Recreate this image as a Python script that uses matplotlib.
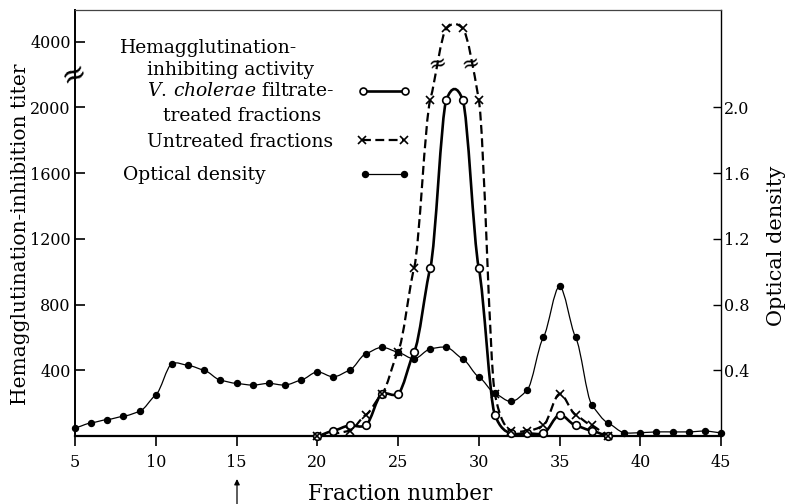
import matplotlib

matplotlib.use("Agg")
import matplotlib.pyplot as plt
import matplotlib.transforms as mtransforms
import numpy as np
from matplotlib.lines import Line2D
from matplotlib.patches import FancyArrowPatch, PathPatch
from matplotlib.path import Path

plt.rcParams["font.family"] = ["DejaVu Serif"]
plt.rcParams["mathtext.fontset"] = "dejavuserif"

# optical density, fractions 5..45
od_frac = list(range(5, 46))
od_vals = [0.05, 0.08, 0.10, 0.12, 0.15, 0.25, 0.44, 0.43, 0.40, 0.34,
           0.32, 0.31, 0.32, 0.31, 0.34, 0.39, 0.36, 0.40, 0.50, 0.54,
           0.51, 0.47, 0.53, 0.54, 0.47, 0.36, 0.26, 0.21, 0.28, 0.60,
           0.91, 0.60, 0.19, 0.08, 0.02, 0.02, 0.025, 0.025, 0.025, 0.03, 0.02]

# V. cholerae filtrate-treated fractions (HI titer)
treated_frac = list(range(20, 39))
treated_titer = [0, 32, 64, 64, 256, 256, 512, 1024, 2048, 2048,
                 1024, 128, 16, 16, 16, 128, 64, 32, 0]

# untreated fractions (HI titer)
untreated_frac = [20, 22, 23, 24, 25, 26, 27, 28, 29, 30,
                  31, 32, 33, 34, 35, 36, 37, 38]
untreated_titer = [0, 32, 128, 256, 512, 1024, 2048, 4450, 4450, 2048,
                   256, 32, 32, 64, 256, 128, 64, 0]

left_ticks = [400, 800, 1200, 1600, 2000, 4000]
right_ticks = [0.4, 0.8, 1.2, 1.6, 2.0]
x_ticks = [5, 10, 15, 20, 25, 30, 35, 40, 45]

BREAK_AT = 2048
BREAK_K = (2400 - BREAK_AT) / (4000 - BREAK_AT)
YTOP = 2593
W, H = 786, 504


def broken(v):
    v = np.asarray(v, dtype=float)
    return np.where(v <= BREAK_AT, v, BREAK_AT + (v - BREAK_AT) * BREAK_K)


def smooth_path(x, y, c=0.5):
    x = np.asarray(x, float)
    y = np.asarray(y, float)
    n = len(x)
    m = np.zeros(n)
    for i in range(n):
        a, b = max(i - 1, 0), min(i + 1, n - 1)
        m[i] = c * (y[b] - y[a]) / (x[b] - x[a])
    verts = [(x[0], y[0])]
    codes = [Path.MOVETO]
    for i in range(n - 1):
        h = x[i + 1] - x[i]
        verts += [(x[i] + h / 3, y[i] + m[i] * h / 3),
                  (x[i + 1] - h / 3, y[i + 1] - m[i + 1] * h / 3),
                  (x[i + 1], y[i + 1])]
        codes += [Path.CURVE4] * 3
    return Path(verts, codes)


def px(xp, yp):
    return xp / W, 1 - yp / H


fig = plt.figure(figsize=(7.86, 5.04), dpi=100)
ax = fig.add_axes([75 / W, 1 - 436 / H, (721 - 75) / W, (436 - 10) / H])
ax.set_xlim(5, 45)
ax.set_ylim(0, YTOP)

# treated: thick solid, open circles
ty = broken(treated_titer)
ax.add_patch(PathPatch(smooth_path(treated_frac, ty), fill=False, lw=1.9,
                       edgecolor="black", clip_on=False, zorder=3))
ax.plot(treated_frac, ty, ls="none", marker="o", ms=5.5, mfc="white",
        mec="black", mew=1.2, clip_on=False, zorder=4)

# untreated: dashed, crosses
uy = broken(untreated_titer)
ax.add_patch(PathPatch(smooth_path(untreated_frac, uy), fill=False, lw=1.6,
                       ls=(0, (4, 2)), edgecolor="black", clip_on=False, zorder=3))
ax.plot(untreated_frac, uy, ls="none", marker="x", ms=6, mec="black",
        mew=1.2, clip_on=False, zorder=4)

# break marks on the untreated peak
for i in (6, 8):
    bx = (untreated_frac[i] + untreated_frac[i + 1]) / 2
    by = (uy[i] + uy[i + 1]) / 2
    ax.text(bx, by, "\u2248", fontsize=16, rotation=15, ha="center",
            va="center", zorder=5)

ax.set_xticks(x_ticks)
ax.set_xticklabels([str(t) for t in x_ticks])
ax.set_yticks(broken(left_ticks))
ax.set_yticklabels([str(t) for t in left_ticks])
ax.tick_params(axis="x", direction="out", length=7, width=1.2, labelsize=11.5, pad=6)
ax.tick_params(axis="y", direction="in", length=7, width=1.2, labelsize=11.5, pad=3)
ax.spines["bottom"].set_linewidth(1.6)
ax.spines["left"].set_linewidth(1.4)
ax.spines["top"].set_linewidth(0.9)
ax.spines["top"].set_color("#444444")
ax.spines["right"].set_linewidth(1.0)

# axis break on left spine
trans = mtransforms.blended_transform_factory(ax.transAxes, ax.transData)
ax.text(0, broken(2900), "\u2248", transform=trans, fontsize=22, rotation=25,
        ha="center", va="center", clip_on=False)

# optical density on right axis
ax2 = ax.twinx()
ax2.set_ylim(0, YTOP / 1000)
ax2.add_patch(PathPatch(smooth_path(od_frac, od_vals), fill=False, lw=0.9,
                        edgecolor="black", clip_on=False, zorder=2))
ax2.plot(od_frac, od_vals, ls="none", marker="o", ms=4.3, mfc="black",
         mec="black", clip_on=False, zorder=3)
ax2.set_yticks(right_ticks)
ax2.set_yticklabels([f"{t:.1f}" for t in right_ticks])
ax2.tick_params(axis="y", direction="in", length=6, width=1.0, labelsize=11.5, pad=2)
for sp in ax2.spines.values():
    sp.set_visible(False)

# axis labels
fig.text(*px(21, 234), "Hemagglutination-inhibition titer", rotation=90,
         ha="center", va="center", fontsize=14.5)
fig.text(*px(776, 246), "Optical density", rotation=90, ha="center",
         va="center", fontsize=15)
fig.text(*px(400, 500), "Fraction number", ha="center", va="baseline",
         fontsize=15.5)

# arrow below fraction 15
fig.add_artist(FancyArrowPatch(
    px(237, 504), px(237, 479), transform=fig.transFigure,
    arrowstyle="-|>", mutation_scale=8, lw=0.9, color="black",
    shrinkA=0, shrinkB=0))

# legend block
leg_txt = [
    (120, 53, "Hemagglutination-"),
    (147, 75, "inhibiting activity"),
    (147, 96, r"$\it{V.\,cholerae}$ filtrate-"),
    (163, 121, "treated fractions"),
    (147, 147, "Untreated fractions"),
    (123, 180, "Optical density"),
]
for xp, yp, s in leg_txt:
    fig.text(*px(xp, yp), s, ha="left", va="baseline", fontsize=13.5)

x0, y0 = px(363, 91)
x1, _ = px(405, 91)
fig.add_artist(Line2D([x0, x1], [y0, y0], transform=fig.transFigure, lw=1.9,
                      color="black", marker="o", ms=5, mfc="white", mew=1.2))
x0, y0 = px(362, 140)
x1, _ = px(404, 140)
fig.add_artist(Line2D([x0, x1], [y0, y0], transform=fig.transFigure, lw=1.6,
                      ls=(0, (4, 2)), color="black", marker="x", ms=6, mew=1.2))
x0, y0 = px(365, 174)
x1, _ = px(404, 174)
fig.add_artist(Line2D([x0, x1], [y0, y0], transform=fig.transFigure, lw=0.9,
                      color="black", marker="o", ms=4.3, mfc="black"))

fig.savefig("out.png", dpi=100, facecolor="white")
